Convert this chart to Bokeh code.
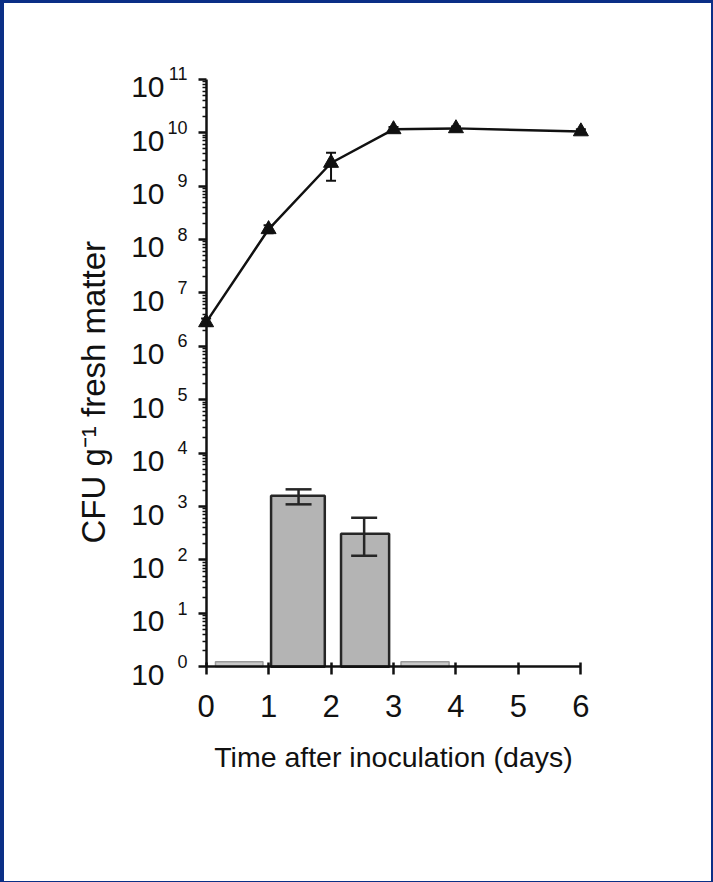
from bokeh.plotting import figure
from bokeh.models import (Range1d, LogAxis, LinearAxis, FixedTicker, Whisker,
                          TeeHead, ColumnDataSource, CustomJSTickFormatter,
                          LogScale, Title)
from bokeh.embed import file_html
from bokeh.resources import INLINE

# ---- data -------------------------------------------------------------
days = [0, 1, 2, 3, 4, 6]                       # sampling days (line series)
cfu = [2.8e6, 1.55e8, 2.7e9, 1.15e10, 1.2e10, 1.05e10]
cfu_low = [2.4e6, 1.3e8, 1.25e9, 1.05e10, 1.1e10, 0.95e10]
cfu_high = [3.3e6, 1.85e8, 4.2e9, 1.28e10, 1.3e10, 1.15e10]

# bars (day intervals), main bars with error bars
bar_left = [1.04, 2.16]
bar_right = [1.90, 2.93]
bar_cfu = [1.6e3, 3.1e2]
bar_err_x = [1.48, 2.53]
bar_low = [1.1e3, 1.2e2]
bar_high = [2.1e3, 6.2e2]

# trace bars (barely above 10^0)
trace_left = [0.15, 3.12]
trace_right = [0.91, 3.89]
trace_cfu = [1.25, 1.25]

x_ticks = [0, 1, 2, 3, 4, 5, 6]
y_exponents = list(range(0, 12))
y_ticks = [float(10 ** e) for e in y_exponents]
y_minor = [float(m * 10 ** e) for e in range(0, 11) for m in range(2, 10)]
y_exp_labels = [str(e) for e in y_exponents]
y_base_label = "10"
x_title = "Time after inoculation (days)"
y_title = "CFU g\u207b\u00b9 fresh matter"

FONT = "Liberation Sans"
INK = "#111111"
FRAME_BLUE = "#0b2f86"

Y_BOTTOM = -0.2       # log10 of the y range start (a little room below 10^0)
Y_TOP = 11.2          # log10 of the y range end
EXP_SHIFT = 0.1       # exponents sit a little above their tick (decades)
BASE_SHIFT = -0.15    # the "10" bases sit below their tick (decades)

p = figure(width=707, height=878,
           x_range=Range1d(-0.25, 6.25), y_range=Range1d(10 ** Y_BOTTOM, 10 ** Y_TOP),
           y_axis_type="log", y_axis_location=None,
           output_backend="svg", toolbar_location=None,
           min_border_left=186, min_border_right=121,
           min_border_top=65, min_border_bottom=208,
           background_fill_color="white", border_fill_color="white",
           outline_line_color=None,
           styles={"border-style": "solid", "border-color": FRAME_BLUE,
                   "border-width": "3px 2px 1px 4px", "box-sizing": "content-box"})
p.grid.visible = False
p.extra_y_ranges = {
    "exp": Range1d(10 ** (Y_BOTTOM - EXP_SHIFT), 10 ** (Y_TOP - EXP_SHIFT)),
    "base": Range1d(10 ** (Y_BOTTOM - BASE_SHIFT), 10 ** (Y_TOP - BASE_SHIFT)),
}
p.extra_y_scales = {"exp": LogScale(), "base": LogScale()}

# default bottom axis: carries the x tick labels only
xa = p.below[0]
xa.ticker = FixedTicker(ticks=x_ticks, minor_ticks=[])
xa.major_label_text_font = FONT
xa.major_label_text_font_size = "31px"
xa.major_label_text_color = INK
xa.major_label_standoff = 17
xa.major_tick_in = 0
xa.major_tick_out = 0
xa.minor_tick_in = 0
xa.minor_tick_out = 0
xa.major_tick_line_color = None
xa.minor_tick_line_color = None
xa.axis_line_color = None

# ---- y axis line + ticks, drawn at x = 0 (ticks pointing left) ---------
y_line = LogAxis(ticker=FixedTicker(ticks=y_ticks, minor_ticks=y_minor),
                 fixed_location=0, bounds=(1, 1e11),
                 formatter=CustomJSTickFormatter(code="return ''"),
                 major_label_standoff=0,
                 major_tick_in=8, major_tick_out=0,
                 minor_tick_in=4, minor_tick_out=0,
                 axis_line_width=2.5, axis_line_color=INK,
                 major_tick_line_width=2.5, major_tick_line_color=INK,
                 minor_tick_line_width=1.5, minor_tick_line_color=INK)
p.add_layout(y_line, "right")

# ---- y tick labels: exponents (closest to the axis) ---------------------
y_exp = LogAxis(y_range_name="exp",
                ticker=FixedTicker(ticks=y_ticks, minor_ticks=[]),
                formatter=CustomJSTickFormatter(args=dict(labels=y_exp_labels),
                                                code="return labels[Math.round(Math.log10(tick))]"),
                axis_line_color=None, major_tick_line_color=None,
                minor_tick_line_color=None,
                major_tick_out=0, major_tick_in=0, minor_tick_out=0, minor_tick_in=0,
                major_label_standoff=3,
                major_label_text_font=FONT, major_label_text_font_size="18px",
                major_label_text_color=INK)
p.add_layout(y_exp, "left")

# ---- y tick labels: the "10" bases ----------------------------------------
y_base = LogAxis(y_range_name="base",
                 ticker=FixedTicker(ticks=y_ticks, minor_ticks=[]),
                 formatter=CustomJSTickFormatter(args=dict(base=y_base_label),
                                                 code="return base"),
                 axis_line_color=None, major_tick_line_color=None,
                 minor_tick_line_color=None,
                 major_tick_out=0, major_tick_in=0, minor_tick_out=0, minor_tick_in=0,
                 major_label_standoff=0,
                 major_label_text_font=FONT, major_label_text_font_size="30px",
                 major_label_text_color=INK)
p.add_layout(y_base, "left")

# ---- y title ------------------------------------------------------------------
p.add_layout(Title(text=y_title, align="left", offset=134, vertical_align="bottom",
                   standoff=33, text_font=FONT, text_font_size="33px",
                   text_font_style="normal", text_color=INK), "left")

# ---- x axis line + ticks, drawn at y = 10^0 ---------------------------------
x_line = LinearAxis(ticker=FixedTicker(ticks=x_ticks, minor_ticks=[]),
                    fixed_location=1, bounds=(0, 6),
                    formatter=CustomJSTickFormatter(code="return ''"),
                    major_label_standoff=0,
                    major_tick_out=4, major_tick_in=8,
                    minor_tick_out=0, minor_tick_in=0,
                    axis_line_width=2.5, axis_line_color=INK,
                    major_tick_line_width=2.5, major_tick_line_color=INK,
                    minor_tick_line_color=None)
p.add_layout(x_line, "above")

# ---- x title ------------------------------------------------------------------
xa2 = LinearAxis(ticker=FixedTicker(ticks=[]), bounds=(0.25, 6),
                 axis_line_color=None, major_tick_line_color=None,
                 minor_tick_line_color=None,
                 major_tick_out=0, major_tick_in=0, minor_tick_out=0, minor_tick_in=0,
                 major_label_standoff=0,
                 axis_label=x_title,
                 axis_label_text_font=FONT, axis_label_text_font_size="28.5px",
                 axis_label_text_font_style="normal", axis_label_text_color=INK,
                 axis_label_standoff=21)
p.add_layout(xa2, "below")

# ---- bars ---------------------------------------------------------------
p.quad(left=trace_left, right=trace_right, bottom=1, top=trace_cfu,
       fill_color="#c8c8c8", line_color="#9a9a9a", line_width=1.5)
p.quad(left=bar_left, right=bar_right, bottom=1, top=bar_cfu,
       fill_color="#b4b4b4", line_color="#262626", line_width=2.5)

bar_src = ColumnDataSource(dict(x=bar_err_x, lower=bar_low, upper=bar_high))
p.add_layout(Whisker(source=bar_src, base="x", lower="lower", upper="upper",
                     dimension="height", line_width=2.5, line_color="#262626",
                     level="annotation",
                     upper_head=TeeHead(size=26, line_width=2.5, line_color="#262626"),
                     lower_head=TeeHead(size=26, line_width=2.5, line_color="#262626")))

# ---- line series ----------------------------------------------------------
line_src = ColumnDataSource(dict(x=days, y=cfu, lower=cfu_low, upper=cfu_high))
p.line("x", "y", source=line_src, line_color=INK, line_width=2.5)
p.add_layout(Whisker(source=line_src, base="x", lower="lower", upper="upper",
                     dimension="height", line_width=2, line_color=INK,
                     level="annotation",
                     upper_head=TeeHead(size=10, line_width=2, line_color=INK),
                     lower_head=TeeHead(size=10, line_width=2, line_color=INK)))
p.scatter("x", "y", source=line_src, marker="triangle", size=15,
          fill_color=INK, line_color=INK)

open("out.html", "w").write(file_html(p, INLINE))
